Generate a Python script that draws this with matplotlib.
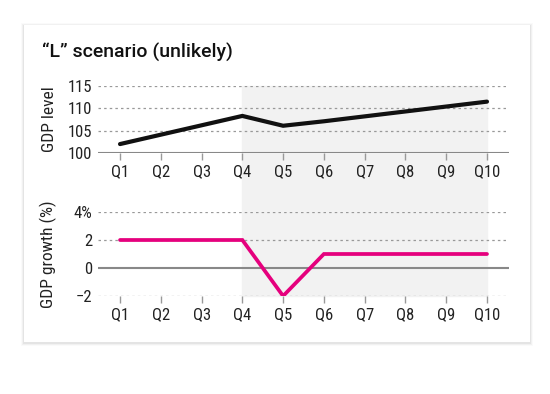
import matplotlib
matplotlib.use("Agg")
from matplotlib import pyplot as plt
from matplotlib.patches import Rectangle

quarters = ["Q1", "Q2", "Q3", "Q4", "Q5", "Q6", "Q7", "Q8", "Q9", "Q10"]
gdp_level = [102.0, 104.1, 106.2, 108.3, 106.1, 107.1, 108.2, 109.3, 110.4, 111.5]
gdp_growth = [2, 2, 2, 2, -2, 1, 1, 1, 1, 1]
level_ticks = [100, 105, 110, 115]
growth_ticks = [-2, 0, 2, 4]
growth_labels = ["\u22122", "0", "2", "4%"]
shade_start, shade_end = 3, 9

W, H = 550, 394
plt.rcParams['font.family'] = ['Roboto Condensed', 'Roboto', 'DejaVu Sans']
fig = plt.figure(figsize=(W / 100, H / 100), dpi=100)
fig.patch.set_facecolor("white")

# card with a soft shadow
for i, a in enumerate([0.05, 0.035, 0.02]):
    d = i + 1
    fig.patches.append(Rectangle(((24 - d) / W, 1 - (342 + d + 1) / H), (506 + 2 * d) / W, (317 + 2 * d) / H,
                                 transform=fig.transFigure, facecolor="black", alpha=a, edgecolor="none", zorder=-3))
fig.patches.append(Rectangle((24 / W, 1 - 342 / H), 506 / W, 317 / H, transform=fig.transFigure,
                             facecolor="white", edgecolor="none", zorder=-2))

fig.text(42 / W, 1 - 52 / H, "\u201cL\u201d scenario (unlikely)", family=['Roboto', 'DejaVu Sans'],
         fontsize=14, fontweight='medium', color="#111111", va="center", ha="left")

left, width = 98 / W, 411 / W
ax1 = fig.add_axes([left, 1 - 153 / H, width, 67 / H])
ax2 = fig.add_axes([left, 1 - 296 / H, width, 84 / H])

x = list(range(len(quarters)))
grid_kw = dict(color="#999999", linestyle=(0, (2, 2.5)), linewidth=0.9, zorder=1)

for ax in (ax1, ax2):
    ax.set_facecolor("none")
    ax.set_xlim(-0.54, 9.54)
    for s in ax.spines.values():
        s.set_visible(False)
    ax.set_xticks(x)
    ax.set_xticklabels(quarters)
    ax.tick_params(axis='x', length=5, width=1, color="#999999", pad=3, labelsize=12, labelcolor="#222222")
    ax.tick_params(axis='y', length=0, pad=4, labelsize=12, labelcolor="#222222")

# shaded projection period spanning both panels
ax1.axvspan(shade_start, shade_end, ymin=(153 - 296) / 67, ymax=1, color="#f2f2f2", clip_on=False, zorder=0)

ax1.set_ylim(100, 115)
ax1.set_yticks(level_ticks)
for v in level_ticks[1:]:
    ax1.axhline(v, **grid_kw)
ax1.axhline(100, color="#888888", linewidth=1.5, zorder=2)
ax1.plot(x, gdp_level, color="#111111", linewidth=3, solid_capstyle='round', solid_joinstyle='miter', zorder=3)
ax1.set_ylabel("GDP level", fontsize=12.5, color="#222222")
ax1.yaxis.set_label_coords(-41 / 411, 0.5)

ax2.set_ylim(-2, 4)
ax2.set_yticks(growth_ticks)
ax2.set_yticklabels(growth_labels)
for v in [-2, 2, 4]:
    ax2.axhline(v, **grid_kw)
ax2.axhline(0, color="#888888", linewidth=1.5, zorder=2)
ax2.plot(x, gdp_growth, color="#e5007d", linewidth=2.7, solid_capstyle='round', solid_joinstyle='miter', zorder=3)
ax2.set_ylabel("GDP growth (%)", fontsize=12.5, color="#222222")
ax2.yaxis.set_label_coords(-41 / 411, 0.5)

fig.savefig("out.png", dpi=100)
